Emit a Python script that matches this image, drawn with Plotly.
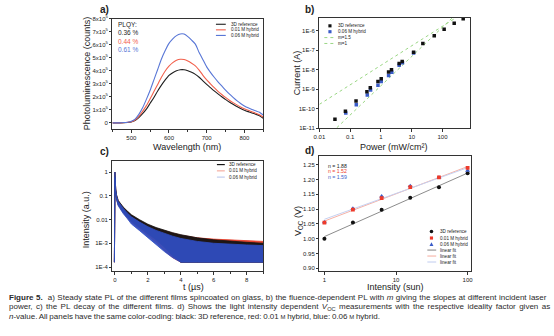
import numpy as np
import plotly.graph_objects as go

W, H = 554, 336
FONT = "Liberation Sans, Arial, sans-serif"
def px(x): return x / W
def py(y): return 1 - y / H

# ---------------- Panel a: steady-state PL ----------------
wavelength = list(range(450, 851, 10))
pl_ref = [0.0, 0.0, 0.0, 0.01, 0.03, 0.07, 0.18, 0.40, 0.70, 1.05, 1.50, 1.95, 2.45, 2.90, 3.30, 3.65, 3.85, 4.00, 4.08, 4.08,
          4.00, 3.88, 3.72, 3.50, 3.22, 2.95, 2.70, 2.45, 2.22, 2.00, 1.80, 1.60, 1.42, 1.25, 1.10, 0.97, 0.86, 0.76, 0.66, 0.55, 0.35]
pl_001 = [0.0, 0.0, 0.0, 0.01, 0.04, 0.09, 0.22, 0.50, 0.88, 1.32, 1.85, 2.40, 2.95, 3.50, 3.98, 4.35, 4.62, 4.80, 4.88, 4.86,
          4.75, 4.58, 4.38, 4.05, 3.65, 3.30, 3.00, 2.70, 2.42, 2.18, 1.95, 1.74, 1.55, 1.38, 1.22, 1.08, 0.96, 0.85, 0.74, 0.62, 0.45]
pl_006 = [0.0, 0.0, 0.0, 0.02, 0.05, 0.12, 0.28, 0.65, 1.15, 1.80, 2.50, 3.30, 4.10, 4.90, 5.55, 6.10, 6.45, 6.70, 6.83, 6.82,
          6.62, 6.35, 6.05, 5.40, 4.85, 4.30, 3.88, 3.50, 3.15, 2.83, 2.52, 2.22, 1.95, 1.70, 1.48, 1.30, 1.15, 1.02, 0.92, 0.82, 0.60]
pl_scale = 1e5
plqy = ["0.36 %", "0.44 %", "0.61 %"]
series_names = ["3D reference", "0.01 M hybrid", "0.06 M hybrid"]

# ---------------- Panel b: fluence dependence ----------------
power_ref = [0.032, 0.07, 0.155, 0.35, 0.45, 0.8, 1.02, 1.77, 2.2, 3.9, 4.9, 11.5, 23, 54, 113, 240, 470]
current_ref = [2.9e-11, 7.5e-11, 2.5e-10, 7.6e-10, 1.2e-9, 2.5e-9, 3.5e-9, 7.7e-9, 1.02e-8, 2.1e-8, 2.7e-8, 8e-8,
               2.2e-7, 5.5e-7, 1.2e-6, 2.4e-6, 4.1e-6]
power_006 = [0.072, 0.158, 0.36, 0.46, 0.8, 1.02, 1.77, 2.25, 3.9, 5.0, 11.5]
current_006 = [6.2e-11, 1.6e-10, 5.1e-10, 9.3e-10, 1.6e-9, 2.5e-9, 5.1e-9, 7.4e-9, 1.7e-8, 2.3e-8, 7.3e-8]
slope_m = [1.5, 1.0]
slope_prefactor = [1.53e-9, 1.7e-8]
slope_labels = ["m=1.5", "m=1"]
guide_power = [0.01, 1000]

# ---------------- Panel c: PL decay (envelopes of the noisy traces) ----------------
t_us = [-0.03, 0.0, 0.02, 0.05, 0.1, 0.2, 0.35, 0.5, 0.75, 1.0, 1.5, 2.0, 2.5, 3.0, 3.5, 4.0, 5.0, 6.0, 7.0, 8.0, 9.0]
ref_hi = [1.6e-4, 1.0, 0.42, 0.2, 0.11, 0.064, 0.045, 0.034, 0.023, 0.016, 0.0098, 0.0064, 0.0046, 0.0035, 0.0028, 0.0023, 0.0017, 0.0014, 0.0012, 0.0011, 0.001]
ref_lo = [1.6e-4, 0.6, 0.26, 0.13, 0.075, 0.043, 0.029, 0.021, 0.013, 0.0084, 0.0046, 0.0026, 0.0014, 0.0007, 0.0003, 0.00016, 0.00016, 0.00016, 0.00016, 0.00016, 0.00016]
h001_hi = [1.6e-4, 1.0, 0.41, 0.19, 0.105, 0.062, 0.043, 0.032, 0.022, 0.015, 0.0092, 0.006, 0.0043, 0.0033, 0.0027, 0.0022, 0.0017, 0.0015, 0.0014, 0.0013, 0.0012]
h001_lo = [1.6e-4, 0.6, 0.25, 0.125, 0.072, 0.041, 0.028, 0.02, 0.012, 0.0076, 0.004, 0.0021, 0.0011, 0.0005, 0.00025, 0.00016, 0.00016, 0.00016, 0.00016, 0.00016, 0.00016]
h006_hi = [1.6e-4, 1.0, 0.4, 0.18, 0.1, 0.058, 0.04, 0.03, 0.019, 0.013, 0.0078, 0.005, 0.0035, 0.0026, 0.002, 0.0016, 0.0012, 0.001, 0.0009, 0.00085, 0.0008]
h006_lo = [1.6e-4, 0.6, 0.24, 0.12, 0.068, 0.038, 0.026, 0.018, 0.011, 0.0065, 0.0034, 0.0017, 0.0009, 0.00045, 0.00025, 0.00016, 0.00016, 0.00016, 0.00016, 0.00016, 0.00016]

# ---------------- Panel d: Voc vs intensity ----------------
sun = [1, 2.5, 6.3, 15.8, 39.8, 100]
voc_ref = [1.000, 1.055, 1.098, 1.138, 1.174, 1.221]
voc_001 = [1.054, 1.098, 1.137, 1.174, 1.207, 1.239]
voc_006 = [1.056, 1.102, 1.143, 1.178, 1.207, 1.230]
ideality = ["n = 1.88", "n = 1.52", "n = 1.59"]

# colors
K = "#1e1e1e"
RED_A, BLUE_A = "#f2604c", "#5876d6"
GREEN = "#9ad684"
RED_C, BLUE_C = "#e43a26", "#2f4ec2"
RED_D, BLUE_D = "#ee3a2a", "#3a5cc8"
FIT_K, FIT_R, FIT_B = "#8c8c8c", "#f6b2a6", "#c6d1f1"

fig = go.Figure()

# Panel a
for vals, col, nm in zip([pl_ref, pl_001, pl_006], [K, RED_A, BLUE_A], series_names):
    fig.add_trace(go.Scatter(x=wavelength, y=[v * pl_scale for v in vals], mode="lines", name=nm,
                             line=dict(color=col, width=1.1, shape="spline", smoothing=0.6),
                             xaxis="x", yaxis="y", showlegend=False))

# Panel b
gx = np.array(guide_power)
for m, a in zip(slope_m, slope_prefactor):
    fig.add_trace(go.Scatter(x=gx, y=a * gx ** m, mode="lines", line=dict(color=GREEN, width=1, dash="dot"),
                             xaxis="x2", yaxis="y2", showlegend=False))
fig.add_trace(go.Scatter(x=power_006, y=current_006, mode="markers",
                         marker=dict(symbol="square", size=3.5, color=BLUE_D), xaxis="x2", yaxis="y2", showlegend=False))
fig.add_trace(go.Scatter(x=power_ref, y=current_ref, mode="markers",
                         marker=dict(symbol="square", size=3.5, color="#111"), xaxis="x2", yaxis="y2", showlegend=False))

# Panel c
for hi, lo, col, fc in [(h001_hi, h001_lo, RED_C, "rgba(228,58,38,0.95)"),
                        (ref_hi, ref_lo, "#151515", "rgba(20,20,20,0.95)"),
                        (h006_hi, h006_lo, BLUE_C, "rgba(47,78,194,0.93)")]:
    fig.add_trace(go.Scatter(x=t_us, y=hi, mode="lines", line=dict(color=col, width=0.8),
                             xaxis="x3", yaxis="y3", showlegend=False))
    fig.add_trace(go.Scatter(x=t_us, y=lo, mode="lines", line=dict(color=col, width=0.8), fill="tonexty",
                             fillcolor=fc, xaxis="x3", yaxis="y3", showlegend=False))

# Panel d
lx = np.log10(np.array(sun))
for v, col in zip([voc_ref, voc_001, voc_006], [FIT_K, FIT_R, FIT_B]):
    k, b = np.polyfit(lx, np.array(v), 1)
    ends = np.array([sun[0], sun[-1]])
    fig.add_trace(go.Scatter(x=ends, y=k * np.log10(ends) + b, mode="lines", line=dict(color=col, width=1),
                             xaxis="x4", yaxis="y4", showlegend=False))
fig.add_trace(go.Scatter(x=sun, y=voc_ref, mode="markers", marker=dict(symbol="circle", size=4, color="#111"),
                         xaxis="x4", yaxis="y4", showlegend=False))
fig.add_trace(go.Scatter(x=sun, y=voc_006, mode="markers", marker=dict(symbol="triangle-up", size=4.5, color=BLUE_D),
                         xaxis="x4", yaxis="y4", showlegend=False))
fig.add_trace(go.Scatter(x=sun, y=voc_001, mode="markers", marker=dict(symbol="square", size=3.8, color=RED_D),
                         xaxis="x4", yaxis="y4", showlegend=False))

ax = dict(showline=True, linecolor="#333", linewidth=0.8, mirror=True, ticks="outside", ticklen=2.5,
          tickwidth=0.7, tickcolor="#333", tickfont=dict(size=6, family=FONT, color="#222"),
          showgrid=False, zeroline=False)

fig.update_layout(
    width=W, height=H, margin=dict(l=0, r=0, t=0, b=0), paper_bgcolor="white", plot_bgcolor="white",
    font=dict(family=FONT, color="#222"),
    xaxis=dict(ax, domain=[px(108), px(261)], range=[450, 850], tickvals=[500, 600, 700, 800],
               minor=dict(ticks="outside", ticklen=1.5, dtick=50, tick0=0), anchor="y"),
    yaxis=dict(ax, domain=[py(128), py(15)], range=[-0.5e5, 8e5],
               tickvals=[i * 1e5 for i in range(9)],
               ticktext=["0"] + [f"{i}x10<sup>5</sup>" for i in range(1, 9)], anchor="x"),
    xaxis2=dict(ax, domain=[px(318), px(471)], type="log", range=[-2, 2.9],
                tickvals=[0.01, 0.1, 1, 10, 100], ticktext=["0.01", "0.1", "1", "10", "100"], anchor="y2"),
    yaxis2=dict(ax, domain=[py(127), py(14)], type="log", range=[-11, -5.33],
                tickvals=[1e-11, 1e-10, 1e-9, 1e-8, 1e-7, 1e-6],
                ticktext=["1E-11", "1E-10", "1E-9", "1E-8", "1E-7", "1E-6"], anchor="x2"),
    xaxis3=dict(ax, domain=[px(108), px(261)], range=[-0.15, 9], tickvals=[0, 2, 4, 6, 8],
                minor=dict(ticks="outside", ticklen=1.5, dtick=1, tick0=0), anchor="y3"),
    yaxis3=dict(ax, domain=[py(273), py(160)], type="log", range=[-4.18, 0.48],
                tickvals=[1e-4, 1e-3, 0.01, 0.1, 1], ticktext=["1E-4", "1E-3", "0.01", "0.1", "1"], anchor="x3"),
    xaxis4=dict(ax, domain=[px(318), px(472)], type="log", range=[-0.07, 2.05],
                tickvals=[1, 10, 100], ticktext=["1", "10", "100"], anchor="y4"),
    yaxis4=dict(ax, domain=[py(273), py(155)], range=[0.89, 1.28],
                tickvals=[0.90, 0.95, 1.00, 1.05, 1.10, 1.15, 1.20, 1.25],
                ticktext=["0.90", "0.95", "1.00", "1.05", "1.10", "1.15", "1.20", "1.25"], anchor="x4"),
)

ann = []
shapes = []
def text(x, y, s, size=5, color="#222", xa="left", ya="middle", angle=0, bold=False):
    ann.append(dict(x=px(x), y=py(y), xref="paper", yref="paper", text=(f"<b>{s}</b>" if bold else s),
                    showarrow=False, xanchor=xa, yanchor=ya, textangle=angle,
                    font=dict(size=size, color=color, family=FONT)))
def hline(x0, x1, y, color, width=1, dash="solid"):
    shapes.append(dict(type="line", xref="paper", yref="paper", x0=px(x0), x1=px(x1), y0=py(y), y1=py(y),
                       line=dict(color=color, width=width, dash=dash)))
def sq(x, y, color, r=1.6):
    shapes.append(dict(type="rect", xref="paper", yref="paper", x0=px(x - r), x1=px(x + r), y0=py(y + r), y1=py(y - r),
                       fillcolor=color, line=dict(width=0)))
def circ(x, y, color, r=1.8):
    shapes.append(dict(type="circle", xref="paper", yref="paper", x0=px(x - r), x1=px(x + r), y0=py(y + r), y1=py(y - r),
                       fillcolor=color, line=dict(width=0)))
def tri(x, y, color, r=2.0):
    shapes.append(dict(type="path", xref="paper", yref="paper",
                       path=f"M {px(x - r)} {py(y + r)} L {px(x + r)} {py(y + r)} L {px(x)} {py(y - r)} Z",
                       fillcolor=color, line=dict(width=0)))

# panel labels
text(100, 6, "a)", size=10, xa="center", bold=True)
text(308, 6, "b)", size=10, xa="center", bold=True)
text(100, 151, "c)", size=10, xa="center", bold=True)
text(308, 150, "d)", size=10, xa="center", bold=True)

# axis titles
text(82, 71, "Photoluminescence (counts)", size=9, xa="center", angle=-90)
text(184, 146, "Wavelength (nm)", size=9, xa="center")
text(295, 70, "Current (A)", size=9, xa="center", angle=-90)
text(394, 146, "Power (mW/cm²)", size=9, xa="center")
text(82, 220, "Intensity (a.u.)", size=9, xa="center", angle=-90)
text(190, 289.5, "t (µs)", size=9, xa="center")
text(297, 222, "V<sub>OC</sub> (V)", size=9, xa="center", angle=-90)
text(395, 289.5, "Intensity (sun)", size=9, xa="center")

# panel a annotations + legend
text(112, 21, "PLQY:", size=6.5)
for i, (s, c) in enumerate(zip(plqy, [K, RED_A, BLUE_A])):
    text(112, 29.5 + 8.3 * i, s, size=6.5, color=c)
for i, (nm, c) in enumerate(zip(series_names, [K, RED_A, BLUE_A])):
    y = 20.7 + 5.7 * i
    hline(213, 223, y, c, 1.1)
    text(226, y, nm, size=4.6)

# panel b legend
sq(328.7, 22.3, "#111")
text(335, 22.3, "3D reference", size=4.6)
sq(328.7, 28.3, BLUE_D)
text(335, 28.3, "0.06 M hybrid", size=4.6)
for i, lab in enumerate(slope_labels):
    y = 34.3 + 6 * i
    hline(323, 333, y, GREEN, 1, "dot")
    text(335, y, lab, size=4.6)

# panel c legend
for i, (nm, c) in enumerate(zip(series_names, ["#151515", "#f5aea2", "#c2cdef"])):
    y = 164 + 6.4 * i
    hline(214, 222, y, c, 1.2)
    text(224, y, nm, size=4.6)

# panel d annotations + legend
for i, (s, c) in enumerate(zip(ideality, ["#222", RED_D, BLUE_D])):
    text(325, 165 + 6 * i, s, size=5.2, color=c)
circ(431.7, 232.3, "#111")
text(438, 232.3, "3D reference", size=4.6)
sq(431.7, 239, RED_D)
text(438, 239, "0.01 M hybrid", size=4.6)
tri(431.7, 245.2, BLUE_D)
text(438, 245.2, "0.06 M hybrid", size=4.6)
for i, c in enumerate([FIT_K, FIT_R, FIT_B]):
    y = 251.3 + 6.1 * i
    hline(427.5, 436.5, y, c, 1.1)
    text(438, y, "linear fit", size=4.6)

# caption
SC = "<span style='font-size:5.9px'>M</span>"
cap = [
    "<span style='word-spacing:0.3px'><b>Figure 5.</b>  a) Steady state PL of the different films spincoated on glass, b) the fluence-dependent PL with <i>m</i> giving the slopes at different incident laser</span>",
    "<span style='word-spacing:1.2px'>power, c) the PL decay of the different films. d) Shows the light intensity dependent <i>V</i><sub>OC</sub> measurements with the respective ideality factor given as</span>",
    f"<span style='word-spacing:-0.5px'><i>n</i>-value. All panels have the same color-coding: black: 3D reference, red: 0.01 {SC} hybrid, blue: 0.06 {SC} hybrid.</span>",
]
for i, line in enumerate(cap):
    text(1, 300 + 9.6 * i, line, size=8, color="#2a2a2a")

fig.update_layout(annotations=ann, shapes=shapes)
fig.write_html("out.html")
